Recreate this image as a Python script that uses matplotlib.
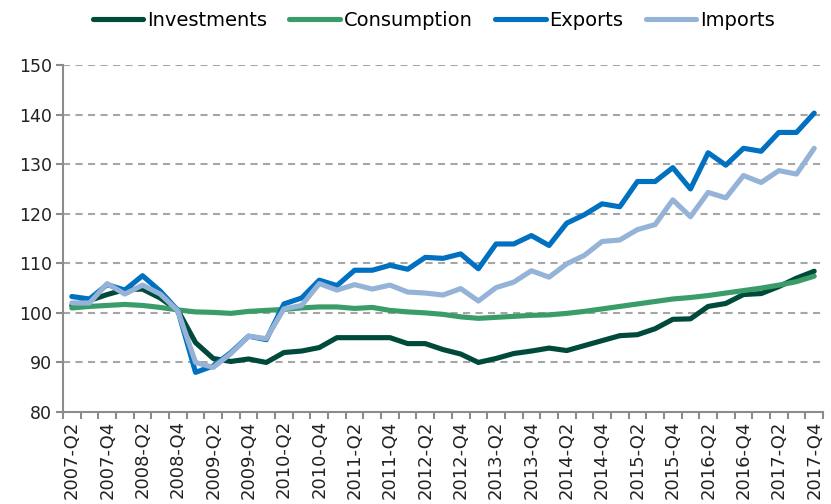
import numpy as np
import matplotlib.pyplot as plt

# quarters 2007-Q2 .. 2017-Q4
quarters = [f"{y}-Q{q}" for y in range(2007, 2018) for q in range(1, 5)][1:]

investments = [101.5, 102.5, 103.7, 104.7, 104.8, 103.0, 100.5,
               94.0, 90.8, 90.2, 90.7, 90.0, 92.0, 92.3, 93.0,
               95.0, 95.0, 95.0, 95.0, 93.8, 93.8, 92.6, 91.7,
               90.0, 90.8, 91.8, 92.3, 92.9, 92.4, 93.4, 94.4,
               95.4, 95.6, 96.8, 98.7, 98.8, 101.3, 101.9, 103.7,
               103.9, 105.3, 107.0, 108.4]
consumption = [101.0, 101.3, 101.5, 101.7, 101.5, 101.1, 100.6,
               100.2, 100.1, 99.9, 100.3, 100.5, 100.7, 101.0, 101.2,
               101.2, 100.9, 101.1, 100.5, 100.2, 100.0, 99.7, 99.2,
               98.9, 99.1, 99.3, 99.5, 99.6, 99.9, 100.3, 100.8,
               101.3, 101.8, 102.3, 102.8, 103.1, 103.5, 104.0, 104.5,
               105.0, 105.6, 106.3, 107.4]
exports = [103.3, 102.8, 105.7, 104.6, 107.5, 104.4, 100.5,
           88.0, 89.3, 92.0, 95.3, 94.6, 101.8, 103.0, 106.6,
           105.5, 108.6, 108.6, 109.6, 108.8, 111.2, 111.0, 111.9,
           108.9, 113.9, 113.9, 115.6, 113.6, 118.1, 119.8, 122.0,
           121.4, 126.5, 126.5, 129.3, 125.0, 132.3, 129.8, 133.2,
           132.6, 136.4, 136.4, 140.3]
imports = [102.0, 102.0, 105.9, 103.8, 105.6, 103.8, 100.4,
           90.0, 89.0, 91.8, 95.3, 94.8, 100.8, 101.5, 105.9,
           104.6, 105.7, 104.8, 105.6, 104.2, 104.0, 103.6, 104.9,
           102.4, 105.1, 106.2, 108.5, 107.2, 109.9, 111.6, 114.4,
           114.7, 116.8, 117.8, 122.8, 119.4, 124.3, 123.2, 127.7,
           126.3, 128.7, 128.0, 133.2]

series = [("Investments", investments, "#004a3c"),
          ("Consumption", consumption, "#3a9c68"),
          ("Exports", exports, "#0070c0"),
          ("Imports", imports, "#95b3d7")]

plt.rcParams['font.family'] = ['DejaVu Sans']

fig = plt.figure(figsize=(8.31, 5.04), dpi=100)
ax = fig.add_axes([0.0758, 0.1825, 0.9146, 0.6885])

x = np.arange(len(quarters))
for name, vals, col in series:
    ax.plot(x, vals, color=col, lw=3.7, label=name, solid_capstyle='round')

ax.set_xlim(-0.5, len(quarters) - 0.5)
ax.set_ylim(80, 150)
ax.set_yticks(range(80, 151, 10))
for v in range(90, 151, 10):
    ax.axhline(v, color='#a6a6a6', lw=1.5, ls=(0, (3.4, 2.6)), zorder=0)

ax.set_xticks(x[::2])
ax.set_xticklabels(quarters[::2], rotation=90, fontsize=13, color='#222222')
ax.set_xticks(np.arange(-0.5, len(quarters)), minor=True)
ax.tick_params(axis='x', which='major', length=0, pad=6)
ax.tick_params(axis='x', which='minor', length=5, width=1.5, color='#8c8c8c')
ax.tick_params(axis='y', length=5, width=1.5, color='#8c8c8c', labelsize=12.5,
               labelcolor='#222222', pad=3)

for s in ['top', 'right']:
    ax.spines[s].set_visible(False)
for s in ['left', 'bottom']:
    ax.spines[s].set_color('#8c8c8c')
    ax.spines[s].set_linewidth(1.5)

fig.legend(loc='center', bbox_to_anchor=(0.522, 0.96), ncol=4, frameon=False,
           fontsize=14, handlelength=2.6, handletextpad=0.2, columnspacing=1.15)

fig.savefig('out.png', dpi=100)
